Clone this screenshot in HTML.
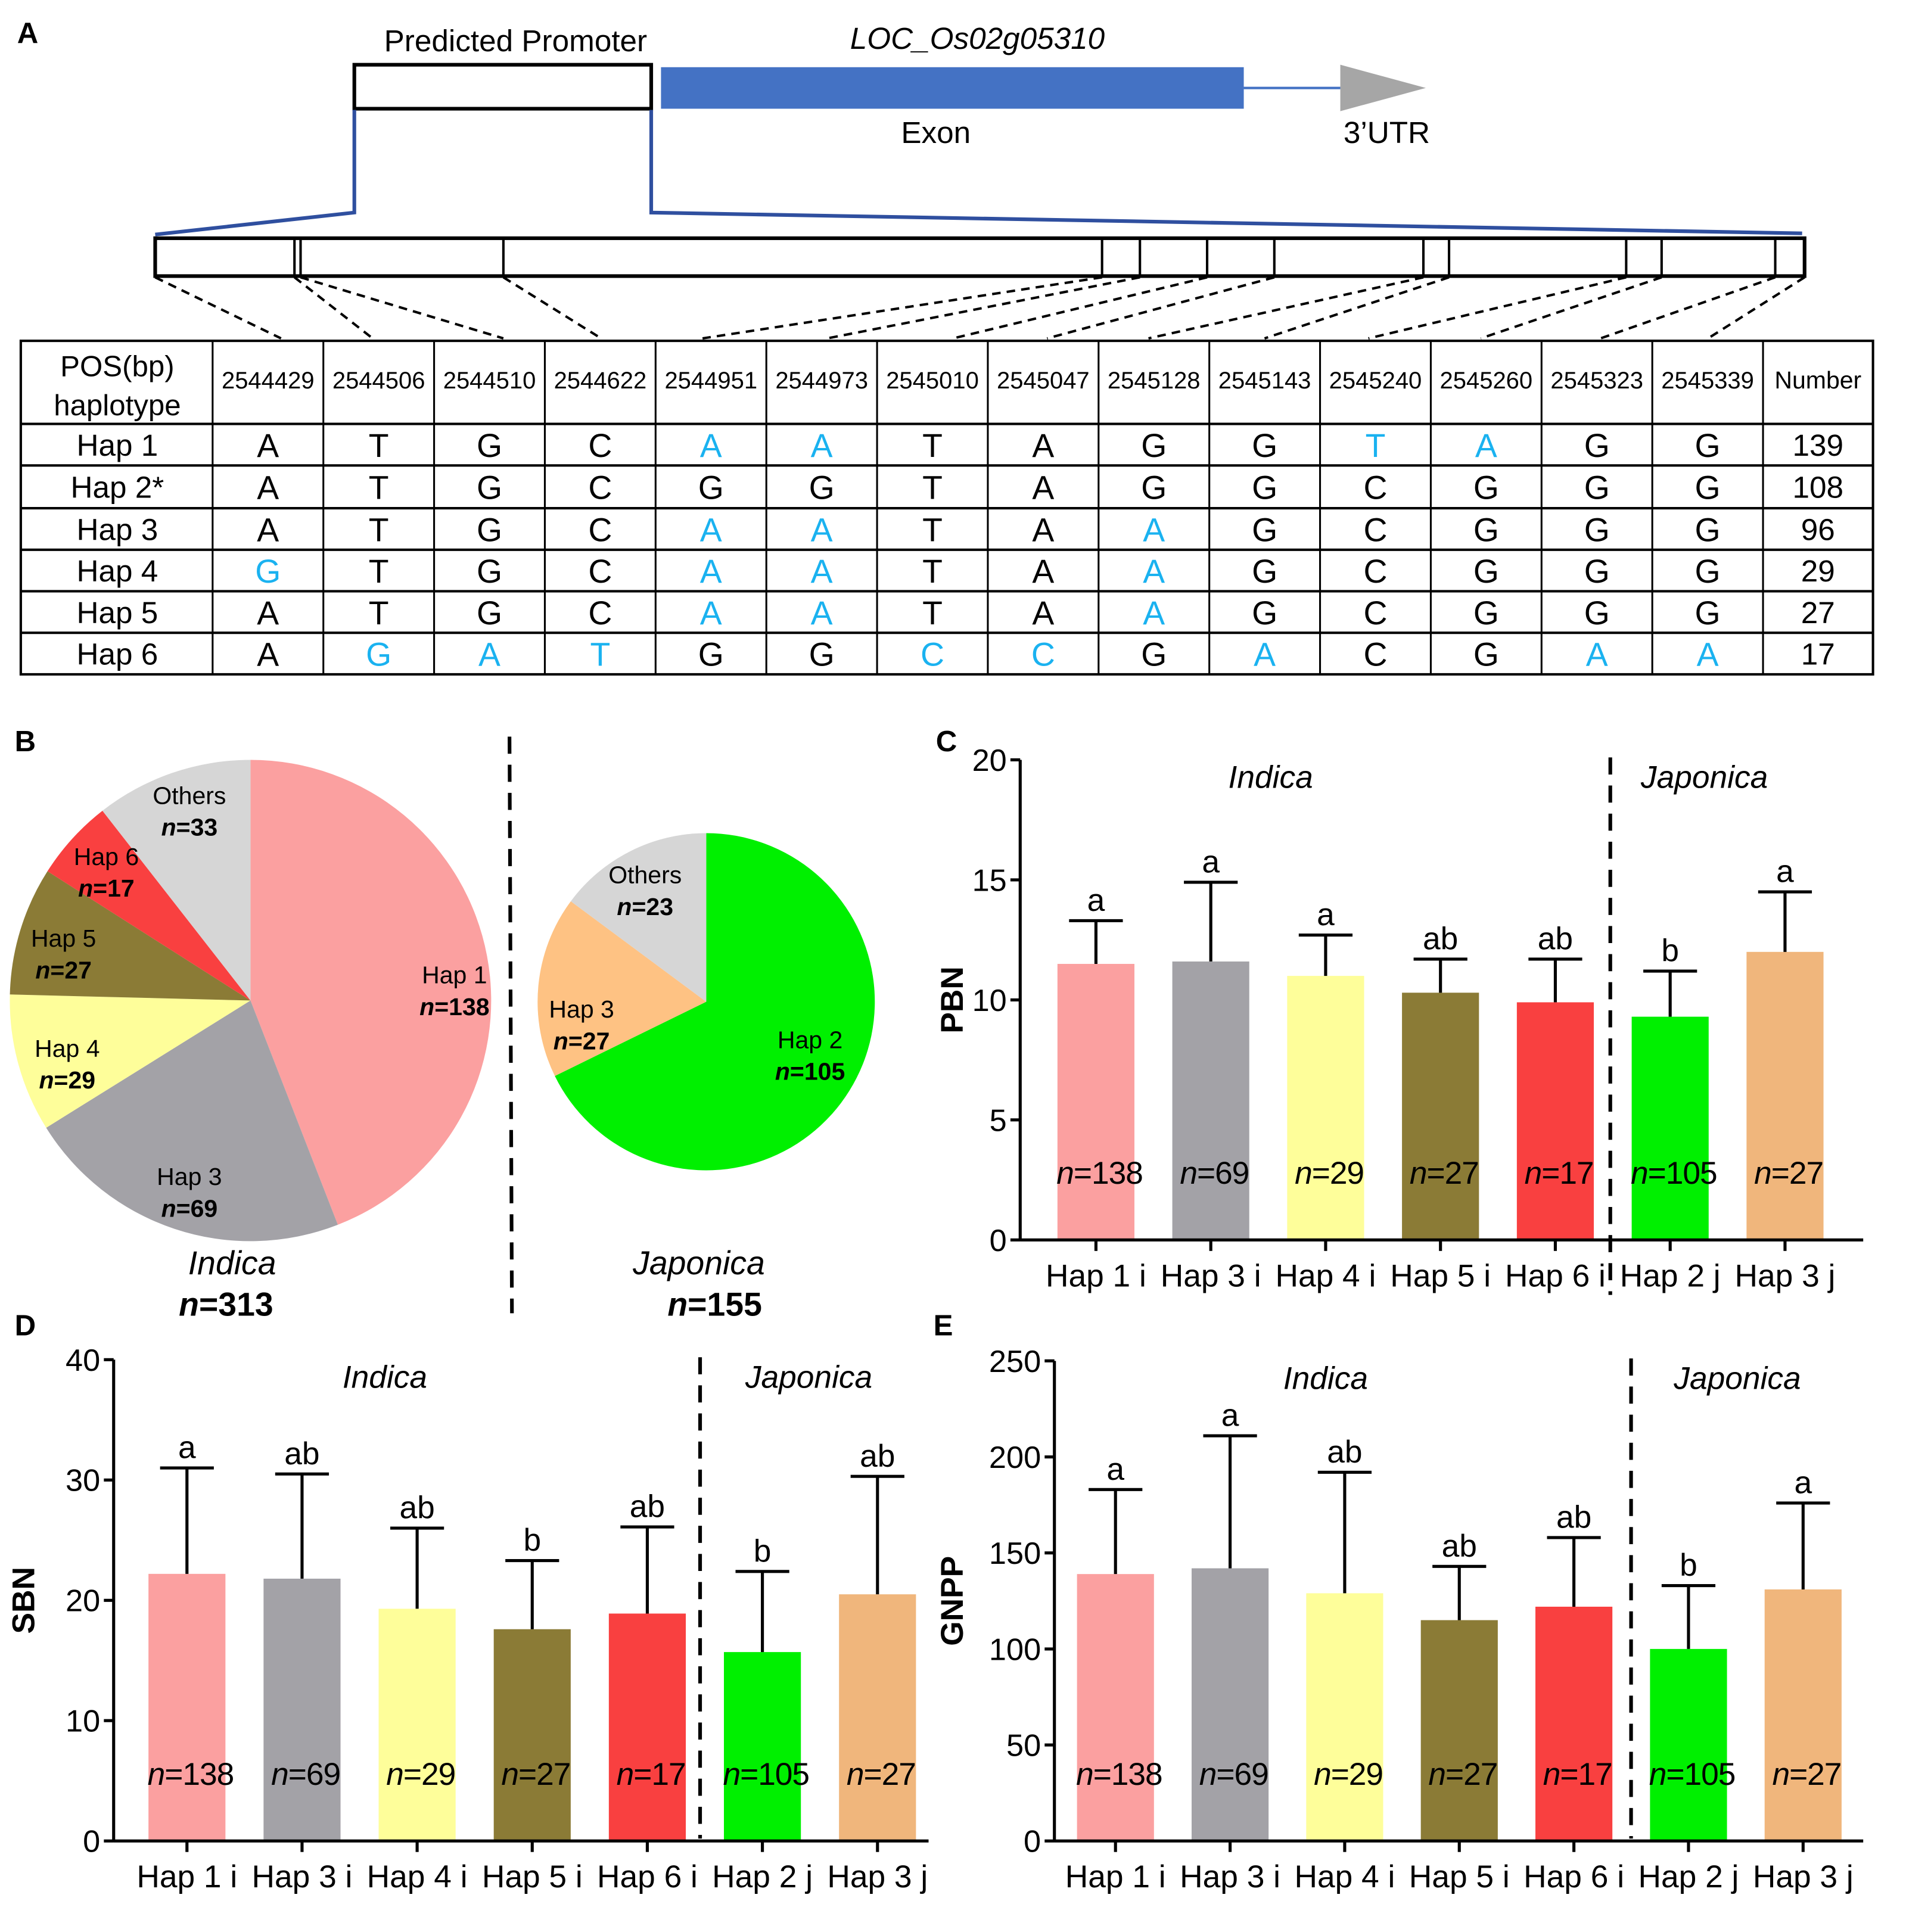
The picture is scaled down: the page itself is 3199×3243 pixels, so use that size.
<!DOCTYPE html>
<html><head><meta charset="utf-8">
<style>
html,body{margin:0;padding:0;background:#fff;}
svg{display:block;font-family:"Liberation Sans",Arial,sans-serif;}
</style></head>
<body>
<svg id="fig" width="3199" height="3243" viewBox="0 0 1560 1581.5" xmlns="http://www.w3.org/2000/svg">
<rect x="0" y="0" width="1560" height="1582" fill="#fff"/>
<g>
<text x="14" y="35" font-size="24" font-weight="bold">A</text>
<text x="422" y="42" font-size="25" text-anchor="middle">Predicted Promoter</text>
<text x="800" y="40" font-size="25" font-style="italic" text-anchor="middle">LOC_Os02g05310</text>
<rect x="290" y="53" width="243" height="36" fill="#fff" stroke="#000" stroke-width="3"/>
<rect x="541" y="55" width="477" height="34" fill="#4472C4"/>
<line x1="1018" y1="72" x2="1097" y2="72" stroke="#4472C4" stroke-width="2"/>
<polygon points="1097,53 1167,72 1097,91" fill="#A6A6A6"/>
<text x="766" y="117" font-size="25" text-anchor="middle">Exon</text>
<text x="1135" y="117" font-size="25" text-anchor="middle">3’UTR</text>
<polyline points="290,90 290,174 127,192" fill="none" stroke="#2F4F9F" stroke-width="3"/>
<polyline points="533,90 533,174 1475,191" fill="none" stroke="#2F4F9F" stroke-width="3"/>
<rect x="127" y="195" width="1350" height="31" fill="#fff" stroke="#000" stroke-width="3"/>
<g id="dividers"></g>
<g id="dashes"></g>
</g>
<g id="table"></g>
<g>
<text x="12" y="615" font-size="24" font-weight="bold">B</text>
<g id="pie1"></g><g id="pie2"></g>
<line x1="417" y1="603" x2="419" y2="1075" stroke="#000" stroke-width="3" stroke-dasharray="14,9"/>
<text x="190" y="1043" font-size="27" font-style="italic" text-anchor="middle">Indica</text>
<text x="185" y="1077" font-size="27" font-weight="bold" text-anchor="middle"><tspan font-style="italic">n</tspan>=313</text>
<text x="572" y="1043" font-size="27" font-style="italic" text-anchor="middle">Japonica</text>
<text x="585" y="1077" font-size="27" font-weight="bold" text-anchor="middle"><tspan font-style="italic">n</tspan>=155</text>
</g>
<g id="chartC"></g><g id="chartD"></g><g id="chartE"></g>
</svg>
<script>
const NS='http://www.w3.org/2000/svg';
function mk(parent,tag,attrs,text){const e=document.createElementNS(NS,tag);for(const k in attrs)e.setAttribute(k,attrs[k]);if(text!==undefined)e.textContent=text;parent.appendChild(e);return e;}

const boxDividers=[241,246,412,902,933,988,1043,1165,1186,1331,1360,1453];
const dashTop=[127,241,246,412,902,933,988,1043,1165,1186,1331,1360,1453,1477];
const dashBottom=[230,305,412,492,575,677,780,857,940,1035,1120,1212,1310,1398];
const positions=['2544429','2544506','2544510','2544622','2544951','2544973','2545010','2545047','2545128','2545143','2545240','2545260','2545323','2545339'];
const hapNames=['Hap 1','Hap 2*','Hap 3','Hap 4','Hap 5','Hap 6'];
const hapSeq=['ATGCAATAGGTAGG','ATGCGGTAGGCGGG','ATGCAATAAGCGGG','GTGCAATAAGCGGG','ATGCAATAAGCGGG','AGATGGCCGACGAA'];
const hapCounts=['139','108','96','29','27','17'];
const ref=hapSeq[1];

const dv=document.getElementById('dividers');
boxDividers.forEach(x=>{const l=mk(dv,'line',{x1:x,y1:195,x2:x,y2:226,stroke:'#000','stroke-width':2});

});
const ds=document.getElementById('dashes');
dashTop.forEach((x,i)=>{const l=mk(ds,'line',{x1:x,y1:227,x2:dashBottom[i],y2:277,stroke:'#000','stroke-width':2,'stroke-dasharray':'7,5'});

});

const tb=document.getElementById('table');
const tx0=17,tx1=1533,c0=174,cw=(1443-174)/14,rowY=[279,347,381,416,450,484,518,552];
mk(tb,'rect',{x:tx0,y:279,width:tx1-tx0,height:273,fill:'none',stroke:'#000','stroke-width':2});
rowY.slice(1,-1).forEach(y=>mk(tb,'line',{x1:tx0,y1:y,x2:tx1,y2:y,stroke:'#000','stroke-width':2}));
for(let i=0;i<=14;i++){const x=c0+i*cw;mk(tb,'line',{x1:x,y1:279,x2:x,y2:552,stroke:'#000','stroke-width':1.5});}
mk(tb,'text',{x:96,y:308,'font-size':24,'text-anchor':'middle'},'POS(bp)');
mk(tb,'text',{x:96,y:340,'font-size':24,'text-anchor':'middle'},'haplotype');
positions.forEach((p,i)=>{const t=mk(tb,'text',{x:c0+cw*(i+0.5),y:318,'font-size':19.5,'text-anchor':'middle'},p);

});
mk(tb,'text',{x:1488,y:318,'font-size':20,'text-anchor':'middle'},'Number');
hapNames.forEach((h,r)=>{const yc=(rowY[r+1]+rowY[r+2])/2+9;
const t=mk(tb,'text',{x:96,y:yc,'font-size':25,'text-anchor':'middle'},h);


for(let i=0;i<14;i++){const ch=hapSeq[r][i];const col=(r!==1&&ch!==ref[i])?'#1AB2F0':'#000';
const c=mk(tb,'text',{x:c0+cw*(i+0.5),y:yc+1,'font-size':27,'text-anchor':'middle',fill:col},ch);

}
const n=mk(tb,'text',{x:1488,y:yc,'font-size':25,'text-anchor':'middle'},hapCounts[r]);

});

const pie1Labels=['Hap 1','Hap 3','Hap 4','Hap 5','Hap 6','Others'];
const pie1Values=[138,69,29,27,17,33];
const pie1Colors=['#FBA0A0','#A3A2A7','#FEFE9A','#8B7B36','#F94040','#D6D6D6'];
const pie2Labels=['Hap 2','Hap 3','Others'];
const pie2Values=[105,27,23];
const pie2Colors=['#00F000','#FEC283','#D6D6D6'];
const pie1LabelPos=[[372,805],[155,970],[55,865],[52,775],[87,708],[155,658]];
const pie2LabelPos=[[663,858],[476,833],[528,723]];
function pie(id,labels,vals,cols,cx,cy,r,lp,fs){const g=document.getElementById(id);
const tot=vals.reduce((a,b)=>a+b,0);let a0=-Math.PI/2;
vals.forEach((v,i)=>{const a1=a0+v/tot*2*Math.PI;
const x0=cx+r*Math.cos(a0),y0=cy+r*Math.sin(a0),x1=cx+r*Math.cos(a1),y1=cy+r*Math.sin(a1);
const p=mk(g,'path',{d:`M${cx},${cy} L${x0},${y0} A${r},${r} 0 ${a1-a0>Math.PI?1:0} 1 ${x1},${y1} Z`,fill:cols[i]});


a0=a1;});
vals.forEach((v,i)=>{const [lx,ly]=lp[i];
mk(g,'text',{x:lx,y:ly,'font-size':fs,'text-anchor':'middle'},labels[i]);
const t=mk(g,'text',{x:lx,y:ly+26,'font-size':fs,'font-weight':'bold','text-anchor':'middle'});
mk(t,'tspan',{'font-style':'italic'},'n');mk(t,'tspan',{},'='+v);});}
pie('pie1',pie1Labels,pie1Values,pie1Colors,205,819,197,pie1LabelPos,20);
pie('pie2',pie2Labels,pie2Values,pie2Colors,578,820,138,pie2LabelPos,20);

const barCats=['Hap 1 i','Hap 3 i','Hap 4 i','Hap 5 i','Hap 6 i','Hap 2 j','Hap 3 j'];
const barN=['138','69','29','27','17','105','27'];
const barColors=['#FBA0A0','#A3A2A7','#FEFE9A','#8B7B36','#F94040','#00F000','#F0B67C'];
const pbnMean=[11.5,11.6,11.0,10.3,9.9,9.3,12.0];
const pbnErr=[13.3,14.9,12.7,11.7,11.7,11.2,14.5];
const pbnLetters=['a','a','a','ab','ab','b','a'];
const pbnTicks=[0,5,10,15,20];
const sbnMean=[22.2,21.8,19.3,17.6,18.9,15.7,20.5];
const sbnErr=[31.0,30.5,26.0,23.3,26.1,22.4,30.3];
const sbnLetters=['a','ab','ab','b','ab','b','ab'];
const sbnTicks=[0,10,20,30,40];
const gnppMean=[139,142,129,115,122,100,131];
const gnppErr=[183,211,192,143,158,133,176];
const gnppLetters=['a','a','ab','ab','ab','b','a'];
const gnppTicks=[0,50,100,150,200,250];

function bars(id,o){const g=document.getElementById(id);


const max=o.ticks[o.ticks.length-1];
const y=v=>o.y0-(o.y0-o.yTop)*v/max;
const xc=i=>o.x1+i*o.step;
mk(g,'text',{x:o.lx,y:o.ly,'font-size':24,'font-weight':'bold'},o.panel);
o.mean.forEach((v,i)=>{const b=mk(g,'rect',{x:xc(i)-31.5,y:y(v),width:63,height:o.y0-y(v),fill:barColors[i]});


mk(g,'line',{x1:xc(i),y1:y(v),x2:xc(i),y2:y(o.err[i]),stroke:'#000','stroke-width':2.5});
mk(g,'line',{x1:xc(i)-22,y1:y(o.err[i]),x2:xc(i)+22,y2:y(o.err[i]),stroke:'#000','stroke-width':2.5});
mk(g,'text',{x:xc(i),y:y(o.err[i])-8,'font-size':26,'text-anchor':'middle'},o.letters[i]);
const t=mk(g,'text',{x:xc(i)+3,y:o.y0-46,'font-size':26,'text-anchor':'middle','letter-spacing':'-0.5'});
mk(t,'tspan',{'font-style':'italic'},'n');mk(t,'tspan',{},'='+barN[i]);
mk(g,'line',{x1:xc(i),y1:o.y0,x2:xc(i),y2:o.y0+9,stroke:'#000','stroke-width':2.5});
const xl=mk(g,'text',{x:xc(i),y:o.y0+38,'font-size':26,'text-anchor':'middle'},barCats[i]);

});
mk(g,'line',{x1:o.ax,y1:o.yTop,x2:o.ax,y2:o.y0+1,stroke:'#000','stroke-width':2.5});
mk(g,'line',{x1:o.ax,y1:o.y0,x2:o.xEnd,y2:o.y0,stroke:'#000','stroke-width':2.5});
o.ticks.forEach(t=>{mk(g,'line',{x1:o.ax-8,y1:y(t),x2:o.ax,y2:y(t),stroke:'#000','stroke-width':2.5});
const tl=mk(g,'text',{x:o.ax-11,y:y(t)+9,'font-size':25.5,'text-anchor':'end'},t);

});
const yt=mk(g,'text',{x:0,y:0,'font-size':26,'font-weight':'bold','text-anchor':'middle',transform:`translate(${o.ylx},${(o.y0+o.yTop)/2}) rotate(-90)`},o.ylabel);


mk(g,'line',{x1:o.dash,y1:o.yTop-2,x2:o.dash,y2:o.dashEnd,stroke:'#000','stroke-width':3,'stroke-dasharray':'14,9'});
mk(g,'text',{x:o.ix,y:o.yTop+23,'font-size':26,'font-style':'italic','text-anchor':'middle'},'Indica');
mk(g,'text',{x:o.jx,y:o.yTop+23,'font-size':26,'font-style':'italic','text-anchor':'middle'},'Japonica');}

bars('chartC',{name:'pbn-chart',panel:'C',lx:766,ly:615,ax:835,y0:1015,yTop:622,x1:897,step:94,xEnd:1525,ticks:pbnTicks,mean:pbnMean,err:pbnErr,letters:pbnLetters,ylabel:'PBN',ylx:788,dash:1318,dashEnd:1060,ix:1040,jx:1395});
bars('chartD',{name:'sbn-chart',panel:'D',lx:12,ly:1093,ax:93,y0:1507,yTop:1113,x1:153,step:94.2,xEnd:760,ticks:sbnTicks,mean:sbnMean,err:sbnErr,letters:sbnLetters,ylabel:'SBN',ylx:28,dash:573,dashEnd:1505,ix:315,jx:662});
bars('chartE',{name:'gnpp-chart',panel:'E',lx:764,ly:1093,ax:863,y0:1507,yTop:1114,x1:913,step:93.8,xEnd:1525,ticks:gnppTicks,mean:gnppMean,err:gnppErr,letters:gnppLetters,ylabel:'GNPP',ylx:788,dash:1335,dashEnd:1505,ix:1085,jx:1422});
</script>
</body></html>
